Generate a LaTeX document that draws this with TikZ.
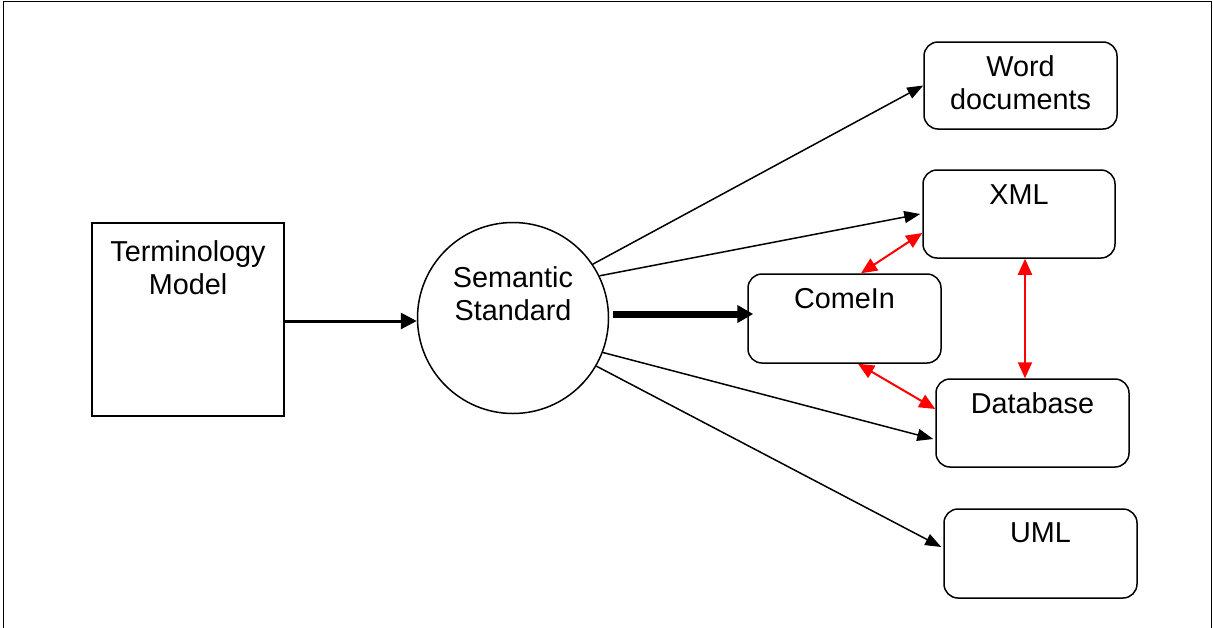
\documentclass[tikz,border=0pt]{standalone}
\usepackage{fontspec}
\setmainfont{Liberation Sans}
\usetikzlibrary{arrows.meta}

\tikzset{
  txt/.style={font=\fontsize{28.8}{33}\selectfont, align=center, inner sep=0pt},
  lbl/.style={txt, anchor=north},
  plainbox/.style={draw, line width=1.5pt, minimum width=192pt, minimum height=193pt, inner sep=0pt},
  rbox/.style={draw, line width=1.5pt, rounded corners=14pt, minimum width=193pt, minimum height=88pt, inner sep=0pt},
  hub/.style={draw, circle, line width=1.5pt, minimum size=191pt, inner sep=0pt},
  feed/.style={line width=1.5pt, -{Triangle[length=16pt,width=12pt]}},
  link/.style={red, line width=2pt, {Triangle[length=16pt,width=14pt]}-{Triangle[length=16pt,width=14pt]}},
}

\begin{document}
\begin{tikzpicture}[x=1pt,y=-1pt]
  \useasboundingbox (0,0) rectangle (1213,627);
  % outer frame (its lower edge runs off the page)
  \draw[line width=1pt] (3,1) rectangle (1211,640);

  % source model and hub
  \node[plainbox, label={[lbl, yshift=-18pt]north:Terminology\\Model}] (term) at (188,319.5) {};
  \node[hub, label={[lbl, yshift=-45pt]north:Semantic\\Standard}] (sem) at (513,318) {};

  % targets
  \node[rbox, minimum height=87pt, label={[lbl, yshift=-14pt]north:Word\\documents}] (word) at (1020.5,85.5) {};
  \node[rbox, minimum width=192pt, label={[lbl, yshift=-15pt]north:XML}] (xml) at (1019,214) {};
  \node[rbox, minimum height=89pt, label={[lbl, yshift=-15pt]north:ComeIn}] (come) at (844.5,318.5) {};
  \node[rbox, label={[lbl, yshift=-14pt]north:Database}] (db) at (1032.5,423) {};
  \node[rbox, minimum height=89pt, label={[lbl, yshift=-14pt]north:UML}] (uml) at (1040.5,553.5) {};

  % model feeds the standard
  \draw[line width=3pt, -{Triangle[length=16pt,width=16pt]}]
    ([yshift=-1.5pt]term.east) -- ([yshift=-3pt]sem.west);

  % main output
  \draw[line width=7pt, -{Triangle[length=16pt,width=17pt]}]
    ([xshift=4pt,yshift=4pt]sem.east) -- ([xshift=6pt,yshift=4.5pt]come.west);

  % other outputs
  \draw[feed] (sem.34.8) -- (word.west);
  \draw[feed] (sem.26) -- ([xshift=-2pt]xml.west);
  \draw[feed] (sem.-21) -- ([xshift=-2pt,yshift=-16pt]db.west);
  \draw[feed] (sem.-30) -- ([xshift=-2pt,yshift=6.5pt]uml.west);

  % two-way links between ComeIn and the stores
  \draw[link] ([xshift=16.5pt]come.north) -- ([yshift=-19pt]xml.west);
  \draw[link] ([xshift=13.5pt]come.south) -- ([yshift=14pt]db.west);
  \draw[link] ([xshift=6pt]xml.south) -- ([xshift=-7.5pt]db.north);
\end{tikzpicture}
\end{document}
